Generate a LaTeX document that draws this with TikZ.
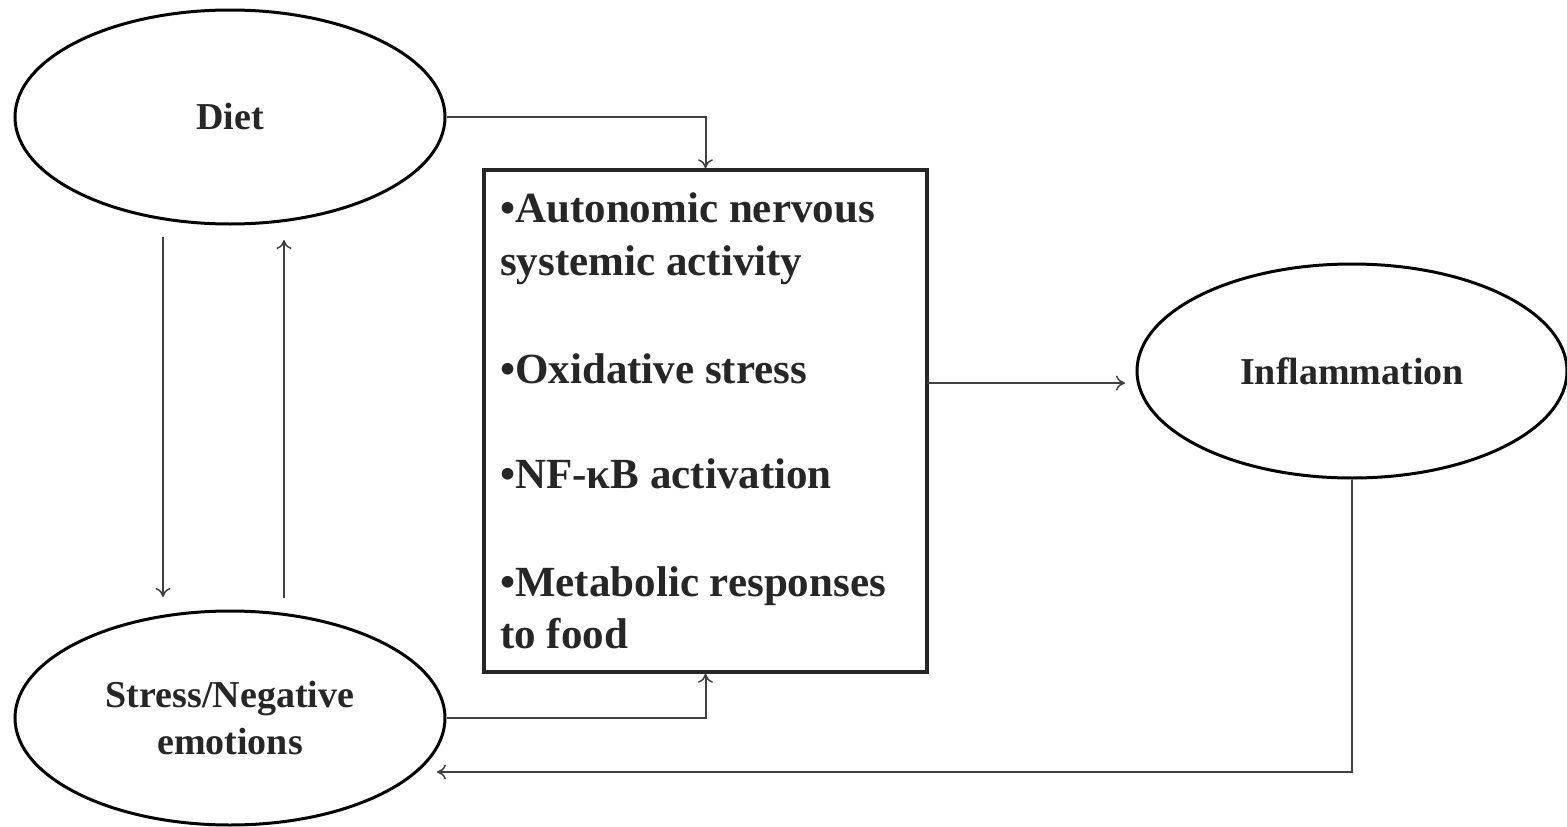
\documentclass[tikz,border=0pt]{standalone}
\usepackage{fontspec}
\setmainfont{Liberation Serif}
\usetikzlibrary{shapes.geometric,arrows.meta,calc}
\tikzset{
  oval/.style={ellipse,draw=black,line width=3pt,minimum width=430pt,minimum height=214pt,inner sep=0pt,
    font=\fontsize{38}{47}\selectfont\bfseries,align=center,text=black!85},
  frame/.style={rectangle,draw=black!85,line width=3.5pt,minimum width=443pt,minimum height=502pt,inner sep=0pt},
  itemtext/.style={anchor=base west,inner sep=0pt,font=\fontsize{43}{53}\selectfont\bfseries,text=black!85},
  arr/.style={draw=black!75,line width=2pt,-{To[length=9pt,width=15pt,line width=1.5pt]}}
}
\begin{document}
\begin{tikzpicture}[x=1pt,y=-1pt]
\useasboundingbox (0,0) rectangle (1567,827);
\node[oval] (diet) at (230,117) {Diet};
\node[oval] (stress) at (230,718) {Stress/Negative\\emotions};
\node[oval] (infl) at (1352,371) {Inflammation};
\node[frame] (box) at (705.5,421) {};
\node[itemtext] (l1) at (500,222) {•Autonomic nervous};
\node[itemtext] (l2) at (500,275) {systemic activity};
\node[itemtext] (l3) at (500,383) {•Oxidative stress};
\node[itemtext] (l4) at (500,488) {•NF-κB activation};
\node[itemtext] (l5) at (500,596) {•Metabolic responses};
\node[itemtext] (l6) at (500,648) {to food};
\coordinate (downA) at (163,237);
\coordinate (downB) at (163,597);
\coordinate (upA) at (284,598);
\coordinate (upB) at (284,240);
\coordinate (boxout) at (927,383);
\coordinate (inflin) at (1125,383);
\coordinate (loopend) at (437,772);
\draw[arr] (diet.east) -| (box.north);
\draw[arr] (stress.east) -| (box.south);
\draw[arr] (boxout) -- (inflin);
\draw[arr] (infl.south) |- (loopend);
\draw[arr] (downA) -- (downB);
\draw[arr] (upA) -- (upB);
\end{tikzpicture}
\end{document}
